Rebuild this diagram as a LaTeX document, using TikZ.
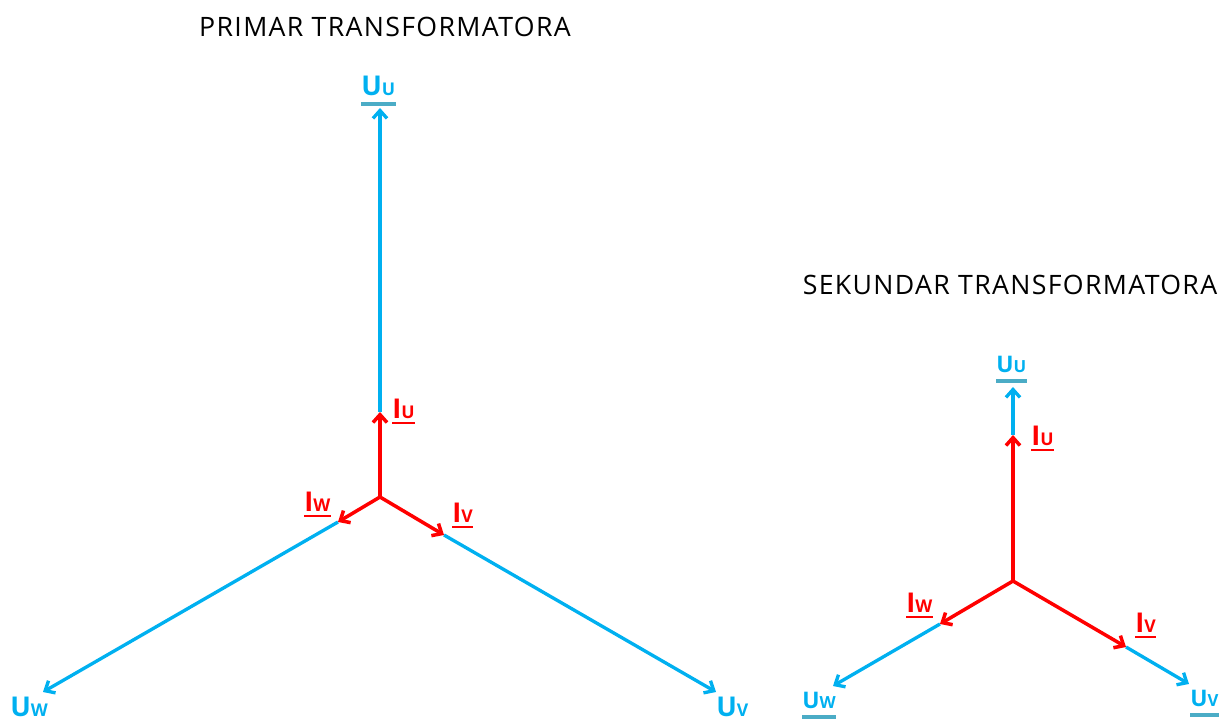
\documentclass[tikz,border=0pt]{standalone}
\usepackage{fontspec}
\setmainfont{Open Sans}
\newfontfamily\naslovfont[LetterSpace=5]{Open Sans}
\usetikzlibrary{arrows.meta}
\definecolor{fazaplava}{RGB}{0,176,240}
\definecolor{fazacrta}{RGB}{75,172,198}
\definecolor{strujacrvena}{RGB}{255,0,0}
\newcommand{\oznaka}[4]{{\fontsize{#3}{#3}\selectfont\bfseries #1}{\fontsize{#4}{#4}\selectfont\bfseries #2}}

\begin{document}
\begin{tikzpicture}[
    x=0.02cm, y=-0.02cm,
    vrh/.style={-{Straight Barb[length=4.5pt, width=8pt]}},
    napon/.style={vrh, draw=fazaplava, line width=1.9pt},
    struja/.style={vrh, draw=strujacrvena, line width=2pt},
    naslov/.style={font=\naslovfont\fontsize{15.2}{18}\selectfont, inner sep=0pt},
    ulab/.style={anchor=base west, inner sep=0pt, text depth=0pt, text=fazaplava,
        append after command={([yshift=-4.5pt]\tikzlastnode.south west) edge[draw=fazacrta, line width=2pt] ([yshift=-4.5pt]\tikzlastnode.south east)}},
    ilab/.style={anchor=base west, inner sep=0pt, text depth=0pt, text=strujacrvena,
        append after command={([yshift=-2.3pt]\tikzlastnode.south west) edge[draw=strujacrvena, line width=1.1pt] ([yshift=-2.3pt]\tikzlastnode.south east)}}
]
\useasboundingbox (0,0) rectangle (1228,722);

\node[naslov] (tPrimar) at (385,27) {PRIMAR TRANSFORMATORA};
\node[naslov] (tSekundar) at (1010,285) {SEKUNDAR TRANSFORMATORA};

\coordinate (pO) at (380,497);
\coordinate (pUu) at (380,108);
\coordinate (pUw) at (43,692);
\coordinate (pUv) at (716,692);
\coordinate (pIu) at (380,412);
\coordinate (pIw) at (338,522);
\coordinate (pIv) at (444,535);
\draw[napon] (pIu) -- (pUu);
\draw[napon] (pIw) -- (pUw);
\draw[napon] (pIv) -- (pUv);
\draw[struja] (pO) -- (pIu);
\draw[struja] (pO) -- (pIw);
\draw[struja] (pO) -- (pIv);
\node[ulab] (plUu) at (361,96) {\oznaka{U}{U}{15.5}{10}};
\node[ulab] (plUw) at (10,717) {\oznaka{U}{W}{15.5}{10}};
\node[ulab] (plUv) at (716,717) {\oznaka{U}{V}{15.5}{10}};
\node[ilab] (plIu) at (392,419) {\oznaka{I}{U}{15.5}{10}};
\node[ilab] (plIw) at (304,512) {\oznaka{I}{W}{15.5}{10}};
\node[ilab] (plIv) at (452,523) {\oznaka{I}{V}{15.5}{10}};

\coordinate (sO) at (1013,581);
\coordinate (sUu) at (1013,387);
\coordinate (sUw) at (833,686);
\coordinate (sUv) at (1189,684);
\coordinate (sIu) at (1013,435);
\coordinate (sIw) at (940,624);
\coordinate (sIv) at (1126,647);
\draw[napon] (sIu) -- (sUu);
\draw[napon] (sIw) -- (sUw);
\draw[napon] (sIv) -- (sUv);
\draw[struja] (sO) -- (sIu);
\draw[struja] (sO) -- (sIw);
\draw[struja] (sO) -- (sIv);
\node[ulab] (slUu) at (996,373) {\oznaka{U}{U}{13}{9.5}};
\node[ulab] (slUw) at (802,709) {\oznaka{U}{W}{13}{9.5}};
\node[ulab] (slUv) at (1190,707) {\oznaka{U}{V}{13}{9.5}};
\node[ilab] (slIu) at (1031,446) {\oznaka{I}{U}{15.5}{10}};
\node[ilab] (slIw) at (906,613) {\oznaka{I}{W}{15.5}{10}};
\node[ilab] (slIv) at (1135,633) {\oznaka{I}{V}{15.5}{10}};
\end{tikzpicture}
\end{document}
